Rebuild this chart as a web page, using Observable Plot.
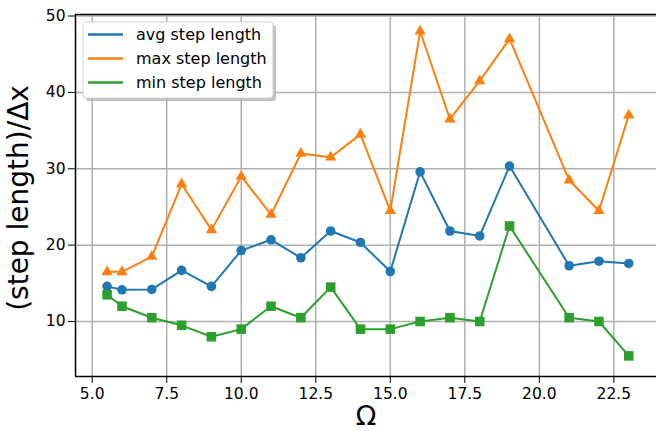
<!DOCTYPE html>
<html>
<head>
<meta charset="utf-8">
<script src="https://cdn.jsdelivr.net/npm/d3@7"></script>
<script src="https://cdn.jsdelivr.net/npm/@observablehq/plot@0.6"></script>
<style>
  html, body { margin: 0; padding: 0; background: white; }
  #chart { width: 656px; height: 431px; overflow: hidden; }
</style>
</head>
<body>
<div id="chart"></div>
<script>
const omega   = [5.5, 6, 7, 8, 9, 10, 11, 12, 13, 14, 15, 16, 17, 18, 19, 21, 22, 23];
const avgStep = [14.6, 14.15, 14.2, 16.7, 14.6, 19.3, 20.7, 18.35, 21.85, 20.35, 16.55, 29.6, 21.85, 21.2, 30.35, 17.3, 17.9, 17.6];
const maxStep = [16.5, 16.5, 18.5, 28, 22, 29, 24, 32, 31.5, 34.5, 24.5, 48, 36.5, 41.5, 47, 28.5, 24.5, 37];
const minStep = [13.5, 12, 10.5, 9.5, 8, 9, 12, 10.5, 14.5, 9, 9, 10, 10.5, 10, 22.5, 10.5, 10, 5.5];

const seriesNames = ["avg step length", "max step length", "min step length"];
const seriesColors = ["#1f77b4", "#ff7f0e", "#2ca02c"];
const seriesSymbols = ["circle", "triangle", "square"];

const xTicks = [5, 7.5, 10, 12.5, 15, 17.5, 20, 22.5];
const yTicks = [10, 20, 30, 40, 50];
const xDomain = [4.44, 23.93];
const yDomain = [2.8, 50.2];
const xLabel = "Ω";
const yLabel = "(step length)/Δx";

const rows = [];
[avgStep, maxStep, minStep].forEach((vals, i) => {
  vals.forEach((v, j) => rows.push({omega: omega[j], value: v, series: seriesNames[i]}));
});

const lineMarks = seriesNames.flatMap((name, i) => {
  const d = rows.filter(r => r.series === name);
  return [
    Plot.line(d, {x: "omega", y: "value", stroke: seriesColors[i], strokeWidth: 2}),
    Plot.dot(d, {x: "omega", y: "value", fill: seriesColors[i], stroke: "none",
      symbol: seriesSymbols[i], r: [4.8, 4.2, 5.4][i]})
  ];
});

const svg = Plot.plot({
  width: 656,
  height: 431,
  marginLeft: 75,
  marginRight: 0,
  marginTop: 14,
  marginBottom: 55,
  style: {fontFamily: "DejaVu Sans", fontSize: "15.5px", color: "black", background: "white", overflow: "visible"},
  x: {domain: xDomain, ticks: xTicks, tickFormat: d3.format(".1f"), tickSize: 7, tickPadding: 4, label: null},
  y: {domain: yDomain, ticks: yTicks, tickSize: 7, tickPadding: 3, label: null},
  marks: [
    Plot.ruleX(xTicks, {stroke: "#b0b0b0", strokeWidth: 1.5}),
    Plot.ruleY(yTicks, {stroke: "#b0b0b0", strokeWidth: 1.5}),
    ...lineMarks,
    Plot.ruleX([xDomain[0]], {stroke: "black", strokeWidth: 1.5}),
    Plot.ruleY([yDomain[0], yDomain[1]], {stroke: "black", strokeWidth: 1.5})
  ]
});

document.getElementById("chart").appendChild(svg);

const s = d3.select(svg);
s.selectAll("text")
  .style("font-size", "15.5px").style("font-family", "DejaVu Sans").style("fill", "black");

// axis titles
s.append("text")
  .attr("transform", "translate(28,198) rotate(-90)")
  .attr("text-anchor", "middle")
  .style("font-family", "DejaVu Sans")
  .style("font-size", "28px")
  .attr("fill", "black")
  .text(yLabel);
s.append("text")
  .attr("x", 366).attr("y", 425)
  .attr("text-anchor", "middle")
  .style("font-family", "DejaVu Sans")
  .style("font-size", "27px")
  .attr("fill", "black")
  .text(xLabel);

// legend
const lg = s.append("g").attr("text-anchor", "start");
lg.append("rect").attr("x", 86).attr("y", 25).attr("width", 190).attr("height", 76)
  .attr("rx", 3).attr("fill", "#b3b3b3").attr("opacity", 0.8);
lg.append("rect").attr("x", 83).attr("y", 22).attr("width", 190).attr("height", 76)
  .attr("rx", 3).attr("fill", "white").attr("stroke", "#d0d0d0").attr("stroke-width", 1);
seriesNames.forEach((name, i) => {
  const cy = 34.5 + i * 24;
  lg.append("line").attr("x1", 88).attr("x2", 123).attr("y1", cy).attr("y2", cy)
    .attr("stroke", seriesColors[i]).attr("stroke-width", 2.5);
  lg.append("text").attr("x", 136).attr("y", cy).attr("dy", "0.35em")
    .attr("text-anchor", "start")
    .style("font-family", "DejaVu Sans").style("font-size", "16px").attr("fill", "black")
    .text(name);
});
</script>
</body>
</html>
